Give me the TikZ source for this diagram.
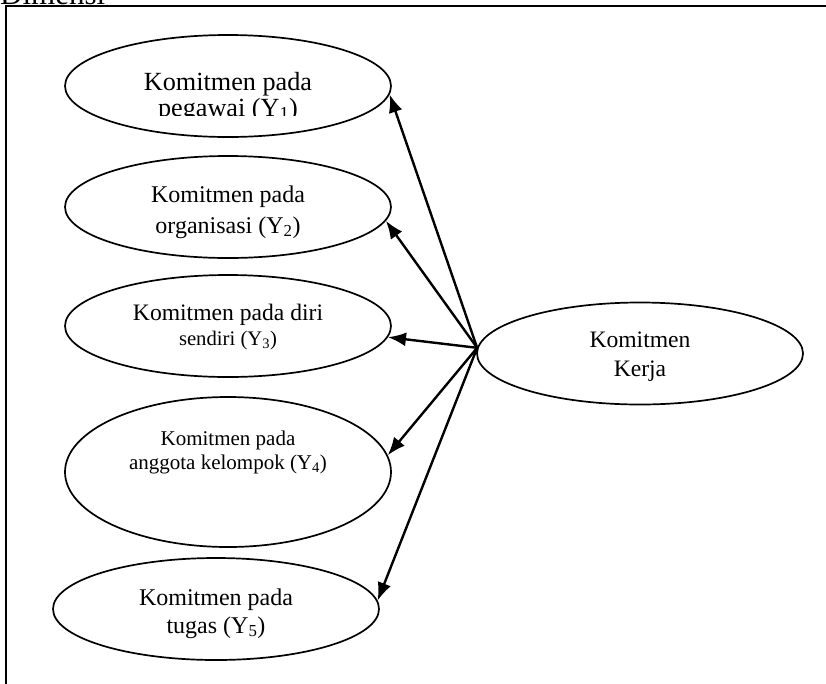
\documentclass[tikz,border=0pt]{standalone}
\usepackage{fontspec}
\setmainfont{Liberation Serif}
\usetikzlibrary{shapes.geometric,arrows.meta}
\begin{document}
\begin{tikzpicture}[x=1pt,y=-1pt,
  dim/.style={draw,ellipse,line width=1.7pt,minimum width=326pt,minimum height=102pt,inner sep=0pt},
  lbl/.style={align=center,anchor=base,inner sep=0pt},
  link/.style={line width=2.4pt,-{Latex[length=18pt,width=14pt]}},
  frameline/.style={line width=2.2pt}]
\clip (0,0) rectangle (826,683);
% heading above the frame
\node[anchor=base west,inner sep=0pt,font=\fontsize{31}{31}\selectfont] (title) at (0,4) {Dimensi};
% frame (only its top and left sides fall inside the picture)
\coordinate (fbl) at (6,690);
\coordinate (ftl) at (6,6);
\coordinate (ftr) at (830,6);
\draw[frameline] (fbl) -- (ftl) -- (ftr);
% dimension ellipses
\node[dim] (y1) at (228,86) {};
\node[dim] (y2) at (228,207) {};
\node[dim] (y3) at (228,326) {};
\node[dim,minimum height=150pt] (y4) at (228,472) {};
\node[dim] (y5) at (216,609) {};
\node[dim] (kerja) at (640,353.5) {};
% labels (anchored at the baseline of their last line)
\begin{scope}
\clip (0,0) rectangle (826,115);
\node[lbl,font=\fontsize{26.2}{26}\selectfont] (t1) at (228,116) {Komitmen pada\\pegawai (Y\textsubscript{1})};
\end{scope}
\node[lbl,font=\fontsize{24}{31}\selectfont] (t2) at (228,233) {Komitmen pada\\organisasi (Y\textsubscript{2})};
\node[lbl,font=\fontsize{23.6}{25}\selectfont] (t3) at (228,345) {Komitmen pada diri\\{\fontsize{20.7}{25}\selectfont sendiri (Y\textsubscript{3})}};
\node[lbl,font=\fontsize{21}{24}\selectfont] (t4) at (228,469) {Komitmen pada\\anggota kelompok (Y\textsubscript{4})};
\node[lbl,font=\fontsize{24}{28}\selectfont] (t5) at (216,633) {Komitmen pada\\tugas (Y\textsubscript{5})};
\node[lbl,font=\fontsize{23.6}{29}\selectfont] (t6) at (640,376) {Komitmen\\Kerja};
% arrows from the construct to its dimensions
\draw[link] (kerja.178) -- (y1.-3);
\draw[link] (kerja.178) -- (y2.-5);
\draw[link] (kerja.178) -- (y3.-4);
\draw[link] (kerja.178) -- (y4.6);
\draw[link] (kerja.178) -- (y5.3);
\end{tikzpicture}
\end{document}
